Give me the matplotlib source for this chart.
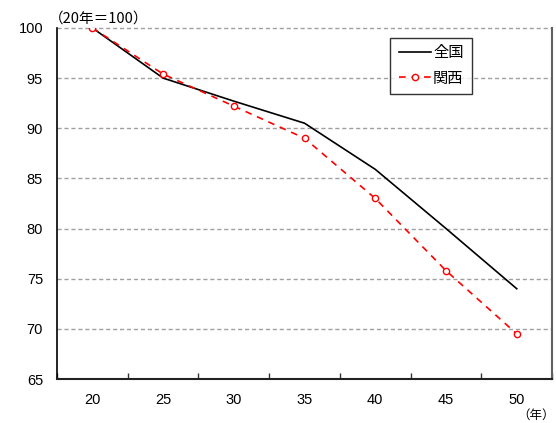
import matplotlib
matplotlib.use("Agg")
import matplotlib.pyplot as plt

plt.rcParams['font.family'] = ['Liberation Sans', 'Noto Sans CJK JP', 'DejaVu Sans']

years = ["20", "25", "30", "35", "40", "45", "50"]
zenkoku = [100.0, 95.0, 92.7, 90.5, 85.9, 80.0, 74.0]
kansai = [100.0, 95.4, 92.2, 89.0, 83.0, 75.8, 69.5]
yticks = [65, 70, 75, 80, 85, 90, 95, 100]

fig = plt.figure(figsize=(5.56, 4.23), dpi=100)
ax = fig.add_axes([0.1025, 0.104, 0.8905, 0.830])

x = list(range(len(years)))
ax.plot(x, zenkoku, color='black', lw=1.2, label='全国', zorder=3)
ax.plot(x, kansai, color='red', lw=1.2, ls=(0, (4, 3.5)), marker='o', ms=4.5,
        mfc='white', mec='red', mew=1.0, label='関西', zorder=4)

ax.set_xlim(-0.5, 6.5)
ax.set_ylim(65, 100)
ax.set_yticks(yticks)
ax.set_yticklabels([str(v) for v in yticks], fontsize=10.5)
ax.set_xticks(x)
ax.set_xticklabels(years, fontsize=10.5)
ax.set_xticks([i + 0.5 for i in range(-1, 7)], minor=True)
ax.tick_params(axis='x', which='major', length=0, pad=10)
ax.tick_params(axis='x', which='minor', direction='in', length=4, width=1, color='#333333')
ax.tick_params(axis='y', length=0, pad=10)

for v in yticks[1:]:
    ax.axhline(v, color='#a0a0a0', lw=1.0, ls=(0, (3, 2)), zorder=1, clip_on=False)

ax.spines['top'].set_visible(False)
ax.spines['left'].set_color('black')
ax.spines['left'].set_linewidth(1.2)
ax.spines['bottom'].set_color('#222222')
ax.spines['bottom'].set_linewidth(1.5)
ax.spines['right'].set_color('#606060')
ax.spines['right'].set_linewidth(1.5)

leg = ax.legend(loc='upper left', bbox_to_anchor=(0.673, 0.9715), fontsize=11,
                frameon=True, fancybox=False, edgecolor='black', handlelength=2.1,
                handletextpad=0.15, borderpad=0.55, labelspacing=0.75,
                borderaxespad=0)
leg.get_frame().set_linewidth(1.0)

fig.text(49 / 556, 1 - 19 / 423, '（20年＝100）', fontsize=10.5, ha='left', va='center',
         family=['Noto Sans CJK JP', 'DejaVu Sans'])
fig.text(555 / 556, 1 - 415 / 423, '（年）', fontsize=9, ha='right', va='center',
         family=['Noto Sans CJK JP', 'DejaVu Sans'])

fig.savefig('out.png', dpi=100)
